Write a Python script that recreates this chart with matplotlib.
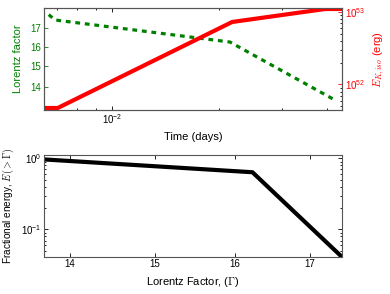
import matplotlib
matplotlib.use("Agg")
import matplotlib.pyplot as plt
from matplotlib.ticker import FixedLocator, NullLocator, NullFormatter, ScalarFormatter, LogLocator, LogFormatterMathtext
import numpy as np

plt.rcParams['font.family'] = ['Liberation Sans', 'DejaVu Sans']
plt.rcParams['mathtext.fontset'] = 'cm'

# Top panel data
time_gamma = [6.65e-3, 6.92e-3, 0.02143, 0.04225]
gamma_vals = [17.78, 17.47, 16.25, 13.43]
time_energy = [6.2e-3, 7.05e-3, 0.02174, 0.03963, 0.0445]
energy_vals = [4.74e51, 4.74e51, 7.28e52, 1.1e53, 1.1e53]

# Bottom panel data
lorentz = [13.71, 16.23, 17.45]
frac_energy = [0.97, 0.64, 0.041]

fig = plt.figure(figsize=(3.9, 2.94), dpi=100)
W, H = 390, 294
ax1 = fig.add_axes([44 / W, 1 - 110 / H, 298 / W, 102 / H])
ax3 = fig.add_axes([44 / W, 1 - 257 / H, 298 / W, 102 / H])

spine_col = '#555555'
green = '#008000'
red = '#ff0000'

ax1.plot(time_gamma, gamma_vals, color=green, lw=2.3, linestyle=(0, (1.5, 1.5)), dash_capstyle='butt')
ax1.set_xscale('log')
ax1.set_yscale('log')
ax1.set_xlim(6.45e-3, 0.0442)
ax1.set_ylim(13.0, 18.17)
ax1.yaxis.set_major_locator(FixedLocator([14, 15, 16, 17]))
ax1.yaxis.set_major_formatter(ScalarFormatter())
ax1.yaxis.set_minor_locator(NullLocator())
ax1.xaxis.set_major_locator(LogLocator(base=10))
ax1.xaxis.set_major_formatter(LogFormatterMathtext())
ax1.xaxis.set_minor_locator(LogLocator(base=10, subs=np.arange(2, 10)))
ax1.xaxis.set_minor_formatter(NullFormatter())
ax1.tick_params(axis='y', colors=green, labelsize=7, pad=2)
ax1.tick_params(axis='x', labelsize=7, pad=1.5)
ax1.tick_params(which='both', direction='in', top=True, length=3, width=0.6)
ax1.tick_params(which='minor', length=1.5)
ax1.set_ylabel('Lorentz factor', color=green, fontsize=8)
ax1.yaxis.set_label_coords(-0.072, 0.5)
ax1.set_xlabel('Time (days)', fontsize=8)
ax1.xaxis.set_label_coords(0.5, -0.22)

ax2 = ax1.twinx()
ax2.plot(time_energy, energy_vals, color=red, lw=3)
ax2.set_yscale('log')
ax2.set_ylim(10 ** 51.648, 10 ** 53.055)
ax2.set_xlim(6.45e-3, 0.0442)
ax2.yaxis.set_major_locator(LogLocator(base=10))
ax2.yaxis.set_major_formatter(LogFormatterMathtext())
ax2.yaxis.set_minor_locator(LogLocator(base=10, subs=np.arange(2, 10)))
ax2.yaxis.set_minor_formatter(NullFormatter())
ax2.tick_params(axis='y', colors=red, labelsize=7, pad=2)
ax2.tick_params(which='both', direction='in', length=3, width=0.6)
ax2.tick_params(which='minor', length=1.5)
ax2.set_ylabel(r'$E_{K,iso}$ (erg)', color=red, fontsize=8)
ax2.yaxis.set_label_coords(1.1, 0.5)

ax3.plot(lorentz, frac_energy, color='black', lw=3)
ax3.set_xscale('log')
ax3.set_yscale('log')
ax3.set_xlim(13.71, 17.45)
ax3.set_ylim(0.041, 10 ** 0.049)
ax3.xaxis.set_major_locator(FixedLocator([14, 15, 16, 17]))
ax3.xaxis.set_major_formatter(ScalarFormatter())
ax3.xaxis.set_minor_locator(NullLocator())
ax3.yaxis.set_major_locator(LogLocator(base=10))
ax3.yaxis.set_major_formatter(LogFormatterMathtext())
ax3.yaxis.set_minor_locator(LogLocator(base=10, subs=np.arange(2, 10)))
ax3.yaxis.set_minor_formatter(NullFormatter())
ax3.tick_params(labelsize=7, pad=1.5)
ax3.tick_params(which='both', direction='in', top=True, right=True, length=3, width=0.6)
ax3.tick_params(which='minor', length=1.5)
ax3.set_xlabel(r'Lorentz Factor, ($\Gamma$)', fontsize=8)
ax3.xaxis.set_label_coords(0.5, -0.18)
ax3.set_ylabel(r'Fractional energy, $E(>\Gamma)$', fontsize=7.2)
ax3.yaxis.set_label_coords(-0.095, 0.5)

for ax in (ax1, ax2, ax3):
    for s in ax.spines.values():
        s.set_color(spine_col)
        s.set_linewidth(0.8)

fig.savefig('out.png', dpi=100)
